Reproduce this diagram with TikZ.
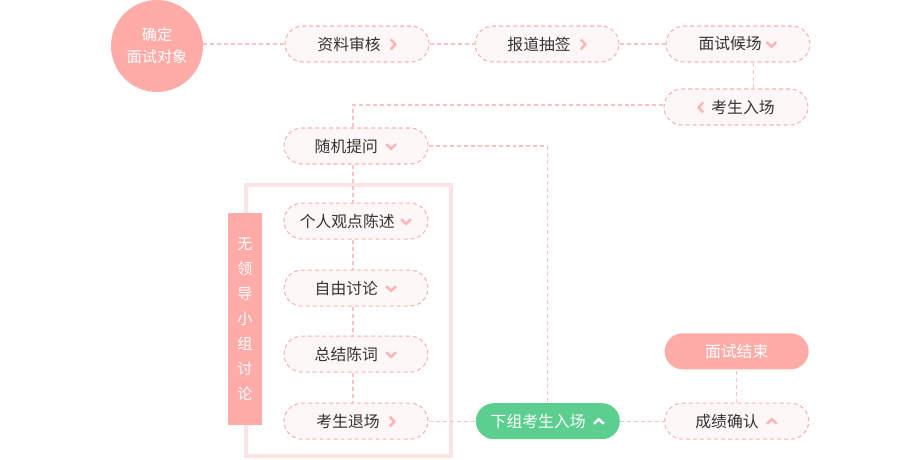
\documentclass[tikz,border=0pt]{standalone}
\usepackage{fontspec}
\setmainfont{Noto Sans CJK SC}
\usetikzlibrary{positioning}
\definecolor{Salmon}{HTML}{FFABA8}
\definecolor{PillFill}{HTML}{FDF7F7}
\definecolor{PillLine}{HTML}{F7B3B3}
\definecolor{LinkLine}{HTML}{FFC2C2}
\definecolor{FrameRose}{HTML}{FDE4E4}
\definecolor{Mint}{HTML}{5CCE8F}
\definecolor{ChevPink}{HTML}{FFB4B4}
\definecolor{Ink}{HTML}{333333}

\tikzset{chev/.style={draw=#1, solid, sharp corners, line width=1.4pt, line join=miter, x=1pt, y=1pt}}
\newcommand{\chevR}[1][ChevPink]{\tikz[baseline=-3.2pt]\draw[chev=#1] (0,-2.8) -- (2.6,0) -- (0,2.8);}
\newcommand{\chevL}[1][ChevPink]{\tikz[baseline=-3.2pt]\draw[chev=#1] (2.6,-2.8) -- (0,0) -- (2.6,2.8);}
\newcommand{\chevD}[1][ChevPink]{\tikz[baseline=-3.2pt]\draw[chev=#1] (-2.8,1.3) -- (0,-1.3) -- (2.8,1.3);}
\newcommand{\chevU}[1][ChevPink]{\tikz[baseline=-3.2pt]\draw[chev=#1] (-2.8,-1.3) -- (0,1.3) -- (2.8,-1.3);}

\begin{document}
\begin{tikzpicture}[
    x=0.02cm, y=-0.02cm,
    pill/.style={rectangle, rounded corners=0.36cm, draw=PillLine, dash pattern=on 0.08cm off 0.06cm, line width=0.6pt, fill=PillFill, minimum height=0.72cm, minimum width=2.88cm, inner sep=0pt, text=Ink, font=\fontsize{9}{11}\selectfont},
    solidpill/.style={rectangle, rounded corners=0.36cm, fill=#1, minimum height=0.72cm, minimum width=2.88cm, inner sep=0pt, text=white, font=\fontsize{9}{11}\selectfont},
    startdot/.style={circle, fill=Salmon, minimum size=1.84cm, inner sep=0pt, align=center, text=white, font=\fontsize{8.6}{12.5}\selectfont},
    sidetag/.style={rectangle, fill=Salmon, minimum width=0.68cm, minimum height=4.24cm, inner sep=0pt, align=center, text=white, font=\fontsize{8.6}{14.2}\selectfont},
    frame/.style={draw=FrameRose, line width=0.08cm},
    link/.style={draw=LinkLine, dash pattern=on 0.08cm off 0.06cm, line width=0.6pt},
]
    \useasboundingbox (0,0) rectangle (920,460);

    % group discussion frame
    \draw[frame] (246,185) rectangle (451,456);
    \node[sidetag] (tag) at (245,319) {无\\领\\导\\小\\组\\讨\\论};

    \node[startdot] (qd) at (157,46) {确定\\面试对象};
    \node[pill] (ziliao) at (357,44) {资料审核\hspace{5pt}\chevR};
    \node[pill, right=0.9cm of ziliao] (baodao) {报道抽签\hspace{5pt}\chevR};
    \node[pill, right=0.92cm of baodao] (houchang) {面试候场\hspace{2pt}\chevD};
    \node[pill] (ruchang) at (736,107) {\chevL\hspace{4pt}考生入场};

    \node[pill] (tiwen) at (356,146) {随机提问\hspace{4pt}\chevD};
    \node[pill, below=0.76cm of tiwen] (geren) {个人观点陈述\hspace{3pt}\chevD};
    \node[pill, below=0.6cm of geren] (ziyou) {自由讨论\hspace{4pt}\chevD};
    \node[pill, below=0.58cm of ziyou] (zongjie) {总结陈词\hspace{4pt}\chevD};
    \node[pill, below=0.6cm of zongjie] (tuichang) {考生退场\hspace{5pt}\chevR};

    \node[solidpill=Mint, right=0.94cm of tuichang] (xiazu) {下组考生入场\hspace{4pt}\chevU[white]};
    \node[pill, right=0.88cm of xiazu] (chengji) {成绩确认\hspace{4pt}\chevU};
    \node[solidpill=Salmon, above=0.66cm of chengji] (jieshu) {面试结束};

    \draw[link] (qd.east |- ziliao.west) -- (ziliao.west);
    \draw[link] (ziliao) -- (baodao);
    \draw[link] (baodao) -- (houchang);
    \draw[link] ([xshift=0.3cm]houchang.south) -- ([xshift=0.3cm]houchang.south |- ruchang.north);
    \draw[link] ([yshift=0.04cm]ruchang.west) -| ([xshift=-0.06cm]tiwen.north);
    \draw[link] (tiwen.east) -| (xiazu.north);
    \draw[link] ([xshift=-0.06cm]tiwen.south) -- ([xshift=-0.06cm]geren.north);
    \draw[link] ([xshift=-0.06cm]geren.south) -- ([xshift=-0.06cm]ziyou.north);
    \draw[link] ([xshift=-0.06cm]ziyou.south) -- ([xshift=-0.06cm]zongjie.north);
    \draw[link] ([xshift=-0.06cm]zongjie.south) -- ([xshift=-0.06cm]tuichang.north);
    \draw[link] (tuichang) -- (xiazu);
    \draw[link] (xiazu) -- (chengji);
    \draw[link] (chengji) -- (jieshu);
\end{tikzpicture}
\end{document}
